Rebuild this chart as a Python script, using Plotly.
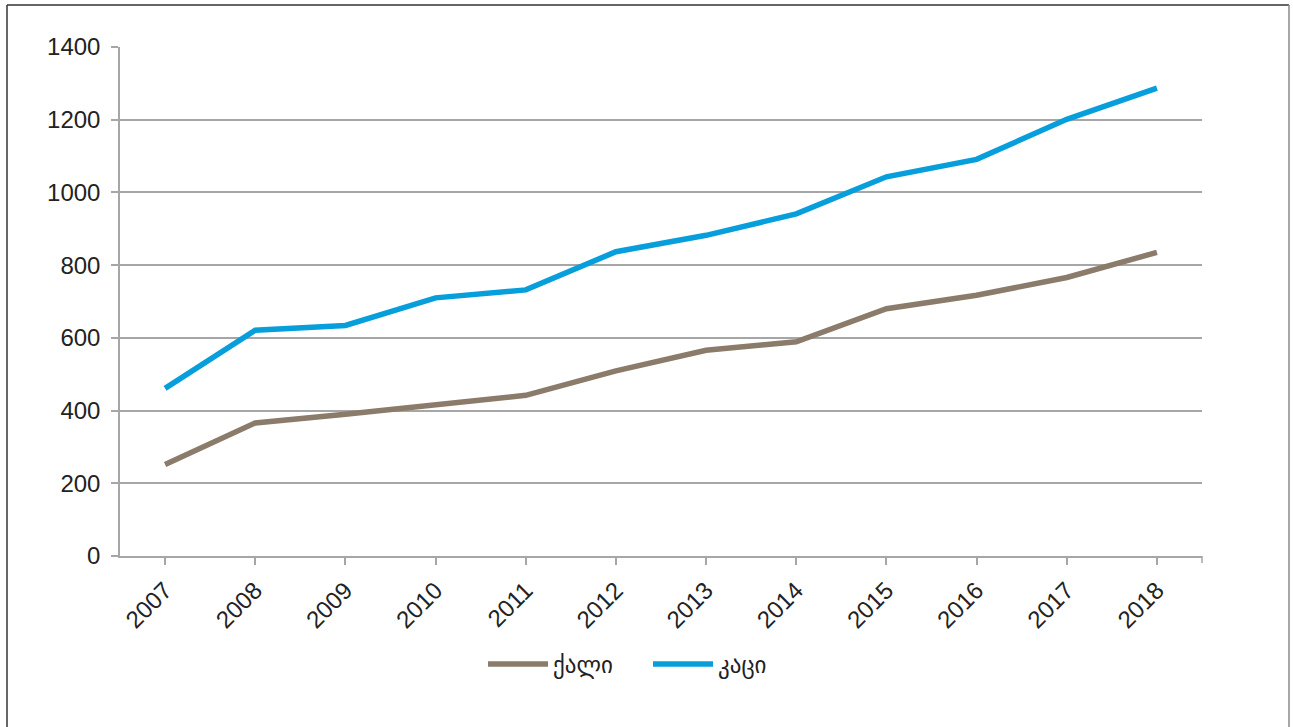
import plotly.graph_objects as go

# Years on the category axis
years = ["2007", "2008", "2009", "2010", "2011", "2012",
         "2013", "2014", "2015", "2016", "2017", "2018"]

# Series values
women = [252, 366, 390, 415, 442, 509, 566, 589, 680, 717, 766, 835]
men = [461, 621, 634, 710, 732, 837, 882, 941, 1043, 1091, 1201, 1287]

series_names = ["ქალი", "კაცი"]
y_ticks = [0, 200, 400, 600, 800, 1000, 1200, 1400]

W, H = 1293, 727
L, R, T, B = 120, 91, 47, 171
plot_w = W - L - R
plot_h = H - T - B

grid_col = "#a6a6a6"
font_family = "Liberation Sans, Arial, sans-serif"

fig = go.Figure()
fig.add_trace(go.Scatter(
    x=years, y=women, mode="lines", name=series_names[0],
    line=dict(color="#8b7b6a", width=5.5),
))
fig.add_trace(go.Scatter(
    x=years, y=men, mode="lines", name=series_names[1],
    line=dict(color="#069fdc", width=5.5),
))


def px_x(px):
    return (px - L) / plot_w


def px_y(py):
    return (H - B - py) / plot_h


shapes = [
    # outer frame: top and left dark, right lighter
    dict(type="line", xref="paper", yref="paper",
         x0=px_x(7), x1=px_x(1289), y0=px_y(5), y1=px_y(5),
         line=dict(color="#333333", width=1.5)),
    dict(type="line", xref="paper", yref="paper",
         x0=px_x(7), x1=px_x(7), y0=px_y(5), y1=px_y(730),
         line=dict(color="#333333", width=1.5)),
    dict(type="line", xref="paper", yref="paper",
         x0=px_x(1289), x1=px_x(1289), y0=px_y(5), y1=px_y(730),
         line=dict(color="#8a8a8a", width=1.5)),
    # closing tick at the right end of the category axis
    dict(type="line", xref="paper", yref="paper",
         x0=1, x1=1, y0=0, y1=px_y(H - B + 7),
         line=dict(color=grid_col, width=1.5)),
]

fig.update_layout(
    width=W, height=H,
    margin=dict(l=L, r=R, t=T, b=B),
    paper_bgcolor="white", plot_bgcolor="white",
    font=dict(family=font_family, color="#222222"),
    showlegend=True,
    legend=dict(
        orientation="h", x=px_x(483), xanchor="left",
        y=px_y(664), yanchor="middle",
        font=dict(size=23, family="DejaVu Sans, Noto Sans, sans-serif", color="#222222"),
        itemwidth=60, tracegroupgap=0, entrywidth=90,
        bgcolor="rgba(0,0,0,0)",
    ),
    shapes=shapes,
    xaxis=dict(
        type="category", range=[-0.5, 11.5],
        showgrid=False, showline=True, linecolor=grid_col, linewidth=1.5,
        ticks="outside", ticklen=7, tickcolor=grid_col, tickwidth=1.5,
        tickangle=-45, tickfont=dict(size=24, family=font_family, color="#222222"),
        ticklabelstandoff=2,
        fixedrange=True,
    ),
    yaxis=dict(
        range=[0, 1400], tickvals=y_ticks,
        showgrid=True, gridcolor=grid_col, gridwidth=1.5,
        showline=True, linecolor=grid_col, linewidth=1.5,
        ticks="outside", ticklen=7, tickcolor=grid_col, tickwidth=1.5,
        tickfont=dict(size=24, family=font_family, color="#222222"),
        ticklabelstandoff=6,
        zeroline=False, fixedrange=True,
    ),
)

fig.write_html("out.html")
